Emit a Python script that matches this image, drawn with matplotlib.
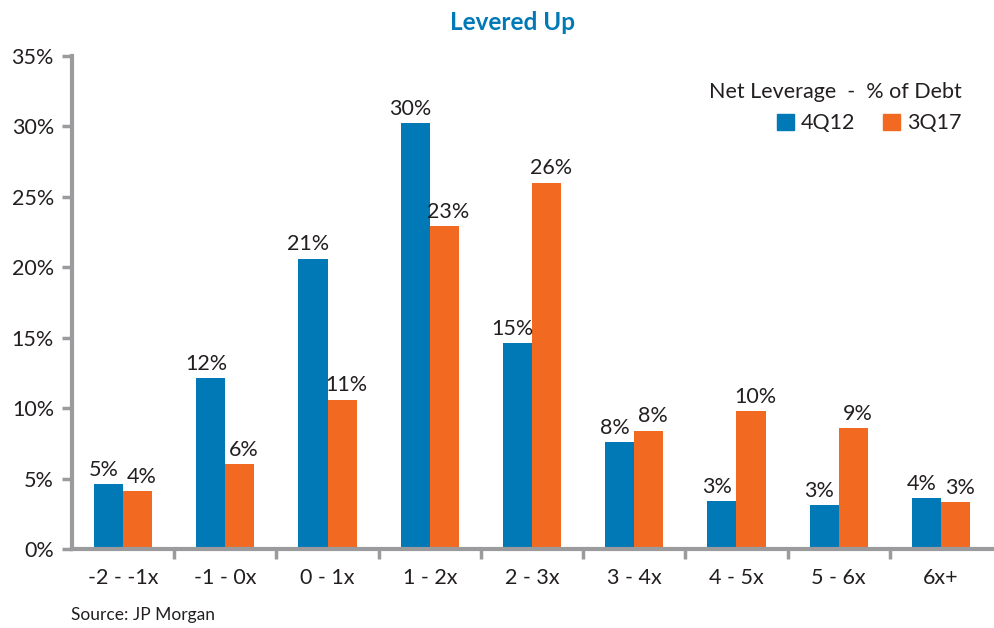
import matplotlib
matplotlib.use("Agg")
import matplotlib.pyplot as plt
import numpy as np
from matplotlib.patches import Patch

categories = ["-2 - -1x", "-1 - 0x", "0 - 1x", "1 - 2x", "2 - 3x", "3 - 4x", "4 - 5x", "5 - 6x", "6x+"]
q4_12 = [4.6, 12.1, 20.6, 30.2, 14.6, 7.6, 3.4, 3.1, 3.6]
q3_17 = [4.1, 6.0, 10.6, 22.9, 26.0, 8.4, 9.8, 8.6, 3.3]
series_names = ["4Q12", "3Q17"]
yticks = [0, 5, 10, 15, 20, 25, 30, 35]

BLUE = "#0079B6"
ORANGE = "#F26A22"
GRAY = "#9B9B9D"
TXT = "#231F20"
FS = 15.5
plt.rcParams['font.family'] = ['Lato', 'DejaVu Sans']

fig = plt.figure(figsize=(9.94, 6.28), dpi=100)
ax = fig.add_axes([72/994, (628-549)/628, (992-72)/994, (549-55.7)/628])

x = np.arange(len(categories))
w = 0.285
b1 = ax.bar(x - w/2, q4_12, w, color=BLUE, zorder=2)
b2 = ax.bar(x + w/2, q3_17, w, color=ORANGE, zorder=2)

for bars, vals, dx in ((b1, q4_12, -3.5), (b2, q3_17, 3.0)):
    for r, v in zip(bars, vals):
        ax.annotate(f"{v:.0f}%", (r.get_x() + r.get_width()/2, v), xytext=(dx, 3),
                    textcoords="offset points", ha="center", va="bottom",
                    fontsize=FS, color=TXT)

ax.set_xlim(-0.5, len(categories) - 0.5)
ax.set_ylim(0, 35)
ax.set_yticks(yticks)
ax.set_yticklabels([f"{t}%" for t in yticks], fontsize=FS, color=TXT)
ax.set_xticks(x)
ax.set_xticklabels(categories, fontsize=FS, color=TXT)
ax.tick_params(axis="x", length=0, pad=14)
ax.tick_params(axis="y", length=7, width=2.5, color=GRAY, pad=6, direction="out")
ax.set_xticks(np.arange(0.5, len(categories) - 1, 1), minor=True)
ax.tick_params(axis="x", which="minor", length=7, width=2.5, color=GRAY, direction="out")

for s in ["top", "right"]:
    ax.spines[s].set_visible(False)
for s in ["left", "bottom"]:
    ax.spines[s].set_color(GRAY)
    ax.spines[s].set_linewidth(3)

handles = [Patch(color=BLUE), Patch(color=ORANGE)]
leg = ax.legend(handles, series_names, title="Net Leverage  -  % of Debt", loc="upper right",
                ncol=2, frameon=False, fontsize=FS, title_fontsize=FS,
                bbox_to_anchor=(0.988, 0.985), handlelength=0.75, handleheight=0.75,
                columnspacing=1.3, handletextpad=0.35, alignment="right")
for t in leg.get_texts():
    t.set_color(TXT)
leg.get_title().set_color(TXT)

fig.text(513/994, 1 - 22/628, "Levered Up", ha="center", va="center", fontsize=17.5,
         fontweight="bold", color=BLUE)
fig.text(71/994, 1 - 615/628, "Source: JP Morgan", ha="left", va="center", fontsize=12.5, color=TXT)

fig.savefig("out.png", dpi=100)
